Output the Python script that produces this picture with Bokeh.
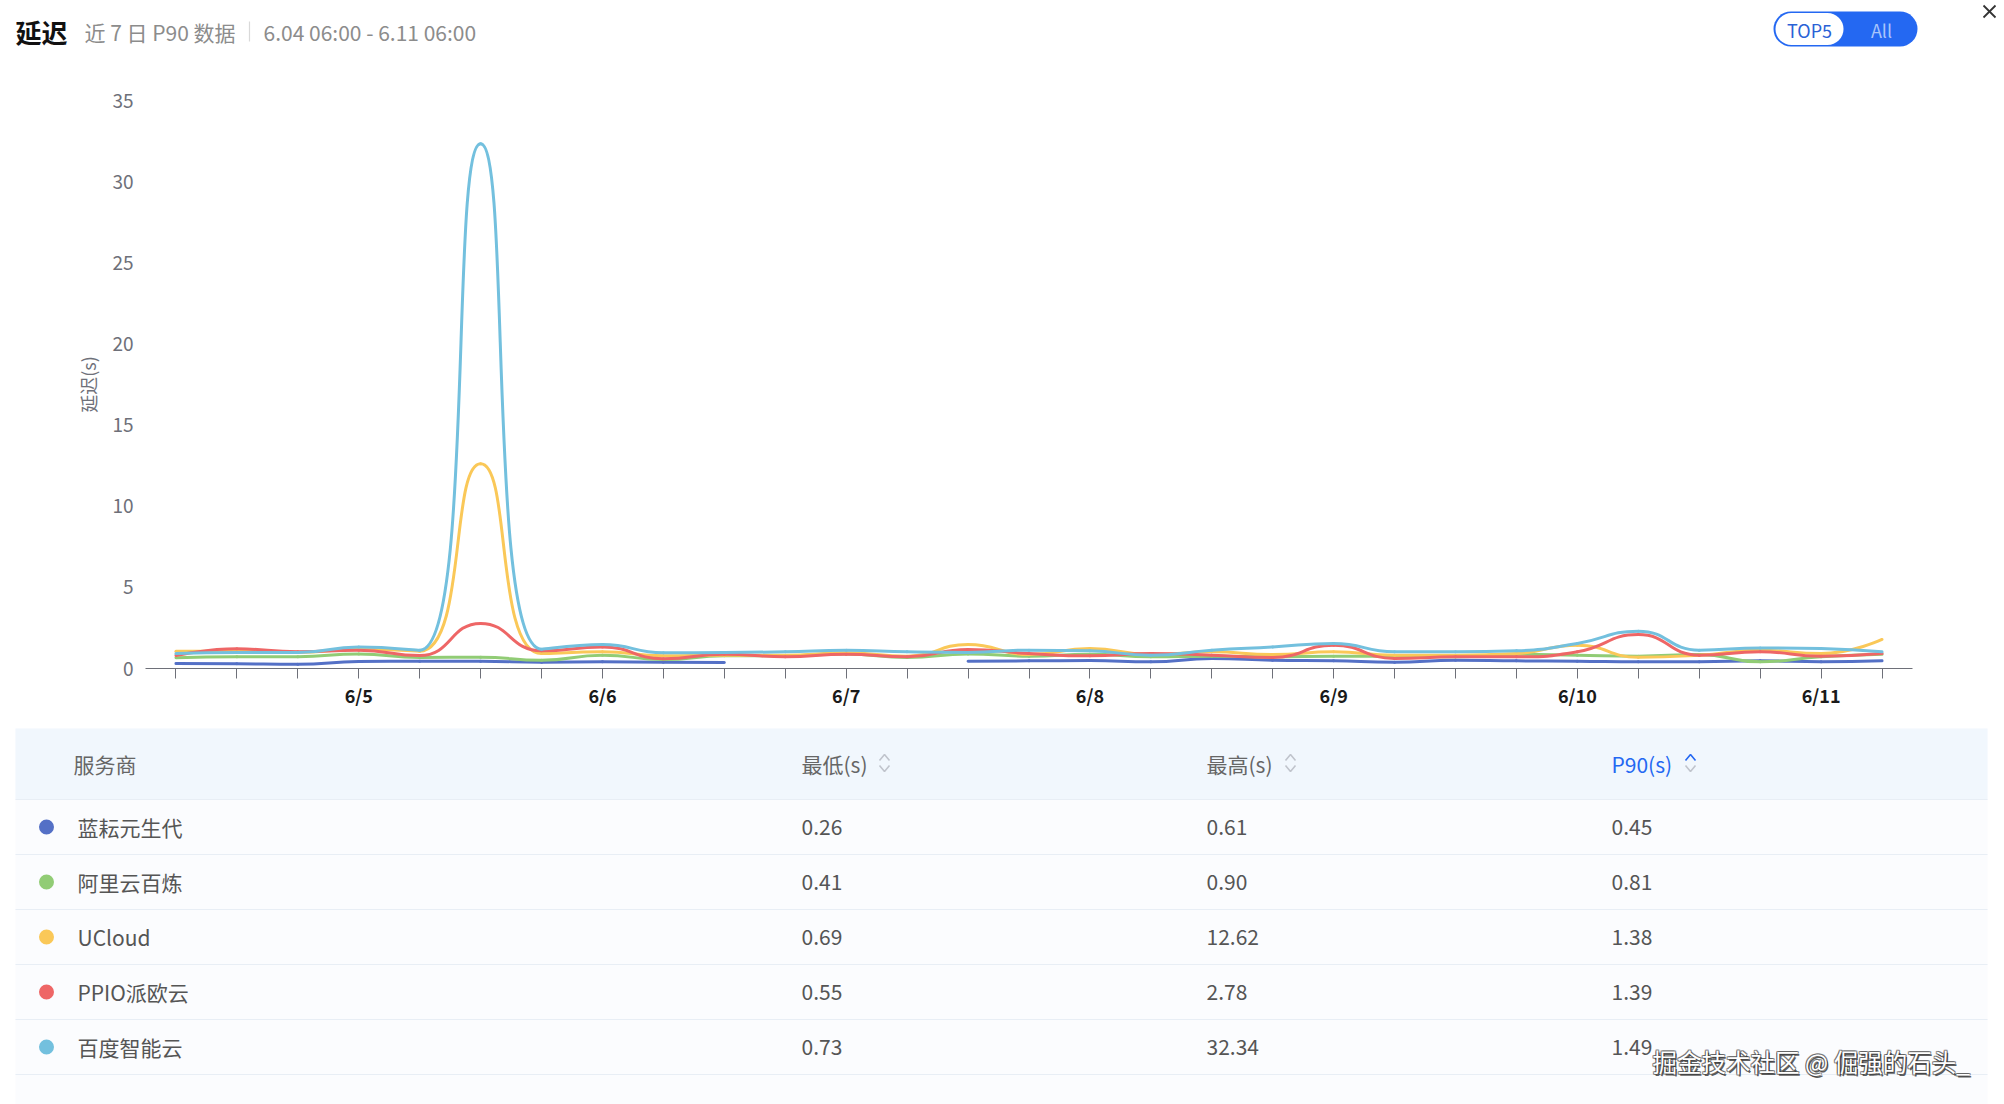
import math
from bokeh.plotting import figure
from bokeh.layouts import column
from bokeh.models import Range1d, FixedTicker
from bokeh.core.properties import value
from bokeh.embed import file_html
from bokeh.resources import INLINE

FONT = "Noto Sans CJK SC"

# ---------------- data ----------------
title = "延迟"
subtitle = "近 7 日 P90 数据"
date_range = "6.04 06:00 - 6.11 06:00"
toggle_labels = ["TOP5", "All"]

# hours since 6/4 00:00, one point every 6 hours (6/4 06:00 .. 6/11 06:00)
hours = [6, 12, 18, 24, 30, 36, 42, 48, 54, 60, 66, 72, 78, 84, 90,
         96, 102, 108, 114, 120, 126, 132, 138, 144, 150, 156, 162, 168, 174]
day_hours = [24, 48, 72, 96, 120, 144, 168]
day_labels = ["6/5", "6/6", "6/7", "6/8", "6/9", "6/10", "6/11"]
y_ticks = [0, 5, 10, 15, 20, 25, 30, 35]
y_title = "延迟(s)"

lanyun = [0.31, 0.29, 0.26, 0.43, 0.45, 0.45, 0.39, 0.41, 0.39, 0.37, None, None, None, 0.45, 0.47,
          0.49, 0.41, 0.61, 0.51, 0.47, 0.39, 0.51, 0.47, 0.45, 0.41, 0.41, 0.47, 0.41, 0.47]
aliyun = [0.66, 0.72, 0.72, 0.90, 0.68, 0.70, 0.51, 0.82, 0.55, 0.78, 0.78, 0.90, 0.68, 0.90, 0.76,
          0.88, 0.72, 0.76, 0.72, 0.76, 0.76, 0.72, 0.88, 0.82, 0.76, 0.86, 0.41, 0.72, 0.88]
ucloud = [1.07, 1.07, 1.00, 1.20, 1.07, 12.62, 0.92, 1.03, 0.78, 0.82, 0.82, 0.97, 0.76, 1.48, 0.86,
          1.23, 0.86, 1.03, 0.86, 1.03, 0.82, 0.82, 0.92, 1.44, 0.69, 0.82, 1.13, 0.92, 1.79]
ppio = [0.80, 1.21, 1.03, 1.13, 0.80, 2.78, 1.09, 1.33, 0.60, 0.88, 0.72, 0.88, 0.72, 1.17, 0.92,
        0.78, 0.92, 0.82, 0.68, 1.44, 0.62, 0.72, 0.72, 1.03, 2.09, 0.82, 1.03, 0.76, 0.92]
baidu = [0.92, 0.99, 0.99, 1.33, 1.13, 32.34, 1.19, 1.48, 0.97, 0.99, 1.03, 1.13, 1.03, 0.99, 1.13,
         1.09, 0.82, 1.13, 1.33, 1.54, 1.03, 1.03, 1.09, 1.54, 2.30, 1.13, 1.27, 1.23, 1.03]

providers = ["蓝耘元生代", "阿里云百炼", "UCloud", "PPIO派欧云", "百度智能云"]
series = [lanyun, aliyun, ucloud, ppio, baidu]
colors = ["#5470c6", "#91cc75", "#fac858", "#ee6666", "#73c0de"]
header_labels = ["服务商", "最低(s)", "最高(s)", "P90(s)"]
min_s = ["0.26", "0.41", "0.69", "0.55", "0.73"]
max_s = ["0.61", "0.90", "12.62", "2.78", "32.34"]
p90_s = ["0.45", "0.81", "1.38", "1.39", "1.49"]
watermark = "掘金技术社区 @ 倔强的石头_"

W = 2004
BLUE = "#2468f2"


def smooth_segments(xs, ys, sx, sy, smooth=0.5):
    """ECharts-style smoothing: cubic bezier control points computed in pixel space."""
    runs, cur = [], []
    for x, y in zip(xs, ys):
        if y is None:
            if cur:
                runs.append(cur)
            cur = []
        else:
            cur.append((x * sx, y * sy))
    if cur:
        runs.append(cur)
    out = {k: [] for k in ("x0", "y0", "x1", "y1", "cx0", "cy0", "cx1", "cy1")}
    for pts in runs:
        n = len(pts)
        cpx0, cpy0 = pts[0]
        for k in range(1, n):
            px, py = pts[k - 1]
            x, y = pts[k]
            if k == n - 1:
                cpx1, cpy1 = x, y
                ncx, ncy = x, y
            else:
                nx, ny = pts[k + 1]
                vx, vy = nx - px, ny - py
                lp = math.hypot(x - px, y - py)
                ln = math.hypot(nx - x, ny - y)
                r = ln / (ln + lp)
                ncx = x + vx * smooth * r
                ncy = y + vy * smooth * r
                ncx = max(min(ncx, max(nx, x)), min(nx, x))
                ncy = max(min(ncy, max(ny, y)), min(ny, y))
                vx, vy = ncx - x, ncy - y
                cpx1 = x - vx * lp / ln
                cpy1 = y - vy * lp / ln
                cpx1 = max(min(cpx1, max(px, x)), min(px, x))
                cpy1 = max(min(cpy1, max(py, y)), min(py, y))
                vx, vy = x - cpx1, y - cpy1
                ncx = x + vx * ln / lp
                ncy = y + vy * ln / lp
            out["x0"].append(px / sx); out["y0"].append(py / sy)
            out["x1"].append(x / sx); out["y1"].append(y / sy)
            out["cx0"].append(cpx0 / sx); out["cy0"].append(cpy0 / sy)
            out["cx1"].append(cpx1 / sx); out["cy1"].append(cpy1 / sy)
            cpx0, cpy0 = ncx, ncy
    return out


# ---------------- header ----------------
HH = 68
hdr = figure(width=W, height=HH, x_range=Range1d(0, W), y_range=Range1d(HH, 0),
             output_backend="svg", toolbar_location=None, x_axis_location=None,
             y_axis_location=None, min_border=0, outline_line_color=None)
hdr.frame_align = False
hdr.grid.grid_line_color = None
hdr.text(x=[15], y=[31], text=[title], text_font=value(FONT), text_font_size="26px",
         text_font_style="bold", text_color="#111111", text_baseline="middle")
hdr.text(x=[84], y=[31], text=[subtitle], text_font=value(FONT), text_font_size="21px",
         text_color="#8c8c8c", text_baseline="middle")
hdr.segment(x0=[249], y0=[21], x1=[249], y1=[41], line_color="#d9d9d9", line_width=1.2)
hdr.text(x=[263], y=[31], text=[date_range], text_font=value(FONT), text_font_size="21px",
         text_color="#8c8c8c", text_baseline="middle")
# toggle pill
hdr.line(x=[1790.5, 1899.5], y=[28.5, 28.5], line_width=35, line_cap="round", line_color=BLUE)
hdr.line(x=[1791, 1827], y=[28.5, 28.5], line_width=32, line_cap="round", line_color="white")
hdr.text(x=[1809, 1881], y=[29, 29], text=toggle_labels, text_font=value(FONT),
         text_font_size="18px", text_color=["#2a62d6", "#a9c5fb"], text_align="center",
         text_baseline="middle")
# close icon
hdr.multi_line(xs=[[1983, 1995], [1983, 1995]], ys=[[5, 17], [17, 5]],
               line_color="#333333", line_width=1.8)

# ---------------- chart ----------------
x_start, x_end = 3, 177
BL, BR, BT, BB = 145, W - 1912, 32, 52
CH = 652
fw, fh = W - BL - BR, CH - BT - BB
ch = figure(width=W, height=CH, x_range=Range1d(x_start, x_end), y_range=Range1d(0, 35),
            output_backend="svg", toolbar_location=None, min_border_left=BL,
            min_border_right=BR, min_border_top=BT, min_border_bottom=BB,
            outline_line_color=None, title=None)
ch.frame_align = False
ch.grid.grid_line_color = None
ch.yaxis.ticker = FixedTicker(ticks=y_ticks)
ch.yaxis.axis_line_color = None
ch.yaxis.major_tick_line_color = None
ch.yaxis.minor_tick_line_color = None
ch.yaxis.major_label_text_color = "#6e7079"
ch.yaxis.major_label_text_font = FONT
ch.yaxis.major_label_text_font_size = "19px"
ch.yaxis.major_label_standoff = 6
ch.yaxis.axis_label = y_title
ch.yaxis.axis_label_text_font = FONT
ch.yaxis.axis_label_text_font_size = "18px"
ch.yaxis.axis_label_text_font_style = "normal"
ch.yaxis.axis_label_text_color = "#6e7079"
ch.yaxis.axis_label_standoff = 8

ch.xaxis.ticker = FixedTicker(ticks=hours)
overrides = {h: "" for h in hours}
for h, lab in zip(day_hours, day_labels):
    overrides[h] = lab
ch.xaxis.major_label_overrides = overrides
ch.xaxis.axis_line_color = "#6e7079"
ch.xaxis.major_tick_line_color = "#6e7079"
ch.xaxis.minor_tick_line_color = None
ch.xaxis.major_tick_out = 10
ch.xaxis.major_tick_in = 0
ch.xaxis.major_label_text_font = FONT
ch.xaxis.major_label_text_font_size = "18px"
ch.xaxis.major_label_text_font_style = "bold"
ch.xaxis.major_label_text_color = "#1a1a1a"
ch.xaxis.major_label_standoff = 3

sx = fw / (x_end - x_start)
sy = fh / 35.0
for ys, c in zip(series, colors):
    seg = smooth_segments(hours, ys, sx, sy)
    ch.bezier(x0=seg["x0"], y0=seg["y0"], x1=seg["x1"], y1=seg["y1"],
              cx0=seg["cx0"], cy0=seg["cy0"], cx1=seg["cx1"], cy1=seg["cy1"],
              line_color=c, line_width=3, line_cap="round")

# ---------------- table ----------------
TH = 1104 - HH - CH
tb = figure(width=W, height=TH, x_range=Range1d(0, W), y_range=Range1d(TH, 0),
            output_backend="svg", toolbar_location=None, x_axis_location=None,
            y_axis_location=None, min_border=0, outline_line_color=None)
tb.frame_align = False
tb.grid.grid_line_color = None
tb.quad(left=[15], right=[1987], top=[8], bottom=[TH], fill_color="#fbfcfe", line_color=None)
tb.quad(left=[15], right=[1987], top=[8], bottom=[79], fill_color="#f1f7fd", line_color=None)
row_h = 55
row_y = [79 + row_h * i + row_h / 2 for i in range(len(providers))]
sep_y = [79 + row_h * i for i in range(len(providers) + 1)]
tb.segment(x0=[15] * len(sep_y), y0=sep_y, x1=[1987] * len(sep_y), y1=sep_y,
           line_color="#e8eef5", line_width=1.2)
col_x = [73, 801, 1206, 1611]
tb.text(x=col_x, y=[43] * 4, text=header_labels, text_font=value(FONT), text_font_size="21px",
        text_color=["#666666", "#666666", "#666666", BLUE], text_baseline="middle")
# sort icons
icon_x = [884, 1290, 1690]
up_cols = ["#c0c4cc", "#c0c4cc", BLUE]
for ix, uc in zip(icon_x, up_cols):
    tb.line(x=[ix - 5, ix, ix + 5], y=[40, 34, 40], line_color=uc, line_width=1.6)
    tb.line(x=[ix - 5, ix, ix + 5], y=[45, 51, 45], line_color="#c0c4cc", line_width=1.6)
tb.scatter(x=[46] * len(providers), y=row_y, size=15, fill_color=colors, line_color=None)
tb.text(x=[77] * len(providers), y=row_y, text=providers, text_font=value(FONT),
        text_font_size="21px", text_color="#555555", text_baseline="middle")
for cx, vals in zip(col_x[1:], [min_s, max_s, p90_s]):
    tb.text(x=[cx] * len(vals), y=row_y, text=vals, text_font=value(FONT),
            text_font_size="21px", text_color="#555555", text_baseline="middle")
# watermark (white text with a thin dark outline / shadow)
wx, wy = 1652, 341
for dx, dy in [(-1, 0), (1, 0), (0, -1), (0, 1), (-1, -1), (1, -1), (-1, 1)]:
    tb.text(x=[wx + dx], y=[wy + dy], text=[watermark], text_font=value(FONT),
            text_font_size="24.5px", text_color="#555555", text_alpha=0.55, text_baseline="middle")
tb.text(x=[wx + 1.5], y=[wy + 1.5], text=[watermark], text_font=value(FONT),
        text_font_size="24.5px", text_color="#333333", text_alpha=0.8, text_baseline="middle")
tb.text(x=[wx], y=[wy], text=[watermark], text_font=value(FONT), text_font_size="24.5px",
        text_color="white", text_baseline="middle")

layout = column(hdr, ch, tb, spacing=0)
open("out.html", "w").write(file_html(layout, INLINE))
